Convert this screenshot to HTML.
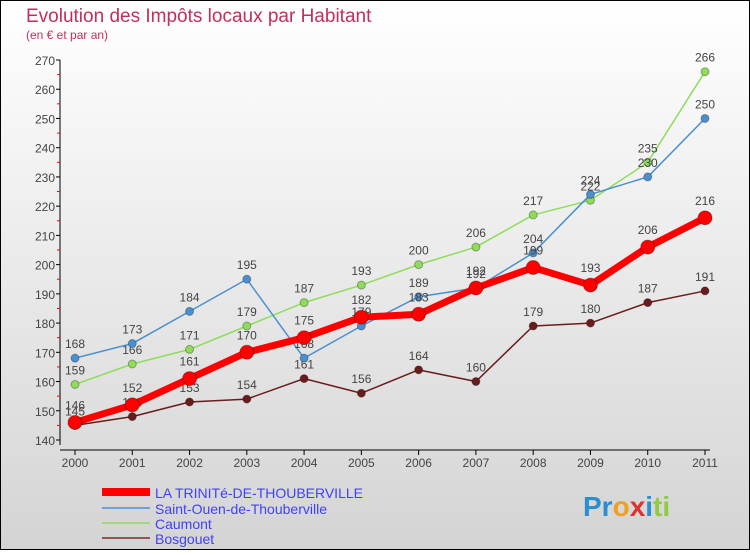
<!DOCTYPE html>
<html><head><meta charset="utf-8"><style>
body{margin:0}
#c{width:750px;height:550px;position:relative;font-family:"Liberation Sans",sans-serif}
</style></head><body>
<div id="c">
<svg id="s" width="750" height="550" xmlns="http://www.w3.org/2000/svg">
<defs><linearGradient id="bg" x1="0" y1="0" x2="0" y2="1"><stop offset="0" stop-color="#ffffff"/><stop offset="1" stop-color="#d4d4d4"/></linearGradient></defs>
<rect x="0.5" y="0.5" width="749" height="549" fill="url(#bg)" stroke="#000"/>
<text x="26" y="22" font-size="19" fill="#c0305a">Evolution des Impôts locaux par Habitant</text>
<text x="26" y="39" font-size="12" fill="#c0305a">(en € et par an)</text>
<g id="axes"></g><g id="series"></g>
<g font-size="14" fill="#4040ff">
<line x1="102" y1="492" x2="150" y2="492" stroke="#f00" stroke-width="8"/>
<text x="155" y="498">LA TRINITé-DE-THOUBERVILLE</text>
<line x1="102" y1="508" x2="150" y2="508" stroke="#4a90d0" stroke-width="1.5"/>
<text x="155" y="514">Saint-Ouen-de-Thouberville</text>
<line x1="102" y1="523" x2="150" y2="523" stroke="#8fdc5a" stroke-width="1.5"/>
<text x="155" y="529">Caumont</text>
<line x1="102" y1="538" x2="150" y2="538" stroke="#7a2a2a" stroke-width="1.5"/>
<text x="155" y="544">Bosgouet</text>
</g>
<text x="583" y="516" font-size="28" font-weight="bold"><tspan fill="#2a8fd0">Pr</tspan><tspan fill="#f0a020">o</tspan><tspan fill="#e03030">x</tspan><tspan fill="#2a8fd0">i</tspan><tspan fill="#8fcc40">ti</tspan></text>
</svg>
</div>
<script>
const years=["2000","2001","2002","2003","2004","2005","2006","2007","2008","2009","2010","2011"];
const trinite=[146,152,161,170,175,182,183,192,199,193,206,216];
const saintOuen=[168,173,184,195,168,179,189,192,204,224,230,250];
const caumont=[159,166,171,179,187,193,200,206,217,222,235,266];
const bosgouet=[145,148,153,154,161,156,164,160,179,180,187,191];
const yTicks=[140,150,160,170,180,190,200,210,220,230,240,250,260,270];
const NS="http://www.w3.org/2000/svg";
const xs=i=>75+i*(630/11);
const ys=v=>440-(v-140)*(380/130);
function mk(t,a,p){const e=document.createElementNS(NS,t);for(const k in a)e.setAttribute(k,a[k]);p.appendChild(e);return e;}
const ax=document.getElementById('axes');
let e=mk('line',{x1:60,y1:ys(270),x2:60,y2:445,stroke:'#000','stroke-width':1},ax);


e=mk('line',{x1:60,y1:450,x2:710,y2:450,stroke:'#000','stroke-width':1},ax);


yTicks.forEach((v,i)=>{
 mk('line',{x1:56,y1:ys(v),x2:60,y2:ys(v),stroke:'#000'},ax);
 if(i<yTicks.length-1)mk('line',{x1:57,y1:ys(v+5),x2:60,y2:ys(v+5),stroke:'#f00'},ax);
 const t=mk('text',{x:55,y:ys(v)+5,'text-anchor':'end','font-size':12,fill:'#444'},ax);t.textContent=v;
 
 
});
years.forEach((y,i)=>{
 mk('line',{x1:xs(i),y1:450,x2:xs(i),y2:455,stroke:'#000'},ax);
 const t=mk('text',{x:xs(i),y:467,'text-anchor':'middle','font-size':12,fill:'#444'},ax);t.textContent=y;
 
 
});
const sg=document.getElementById('series');
function draw(data,color,w,r,name){
 const g=mk('g',{},sg);
 
 
 const l=mk('polyline',{points:data.map((v,i)=>xs(i)+','+ys(v)).join(' '),fill:'none',stroke:color,'stroke-width':w,'stroke-linejoin':'round'},g);
 
 
 data.forEach((v,i)=>{
  const c=mk('circle',{cx:xs(i),cy:ys(v),r:r,fill:color,stroke:'rgba(0,0,0,0.3)','stroke-width':1},g);
  
  
  const t=mk('text',{x:xs(i),y:ys(v)-r-6,'text-anchor':'middle','font-size':12,fill:'#444'},g);t.textContent=v;
  
  
 });
}
draw(bosgouet,'#6a1c1c',1.5,4,'bosgouet');
draw(caumont,'#8fdc5a',1.5,4,'caumont');
draw(saintOuen,'#4a90d0',1.5,4,'saint-ouen');
draw(trinite,'#ff0000',7,7,'trinite');
</script>
</body></html>
